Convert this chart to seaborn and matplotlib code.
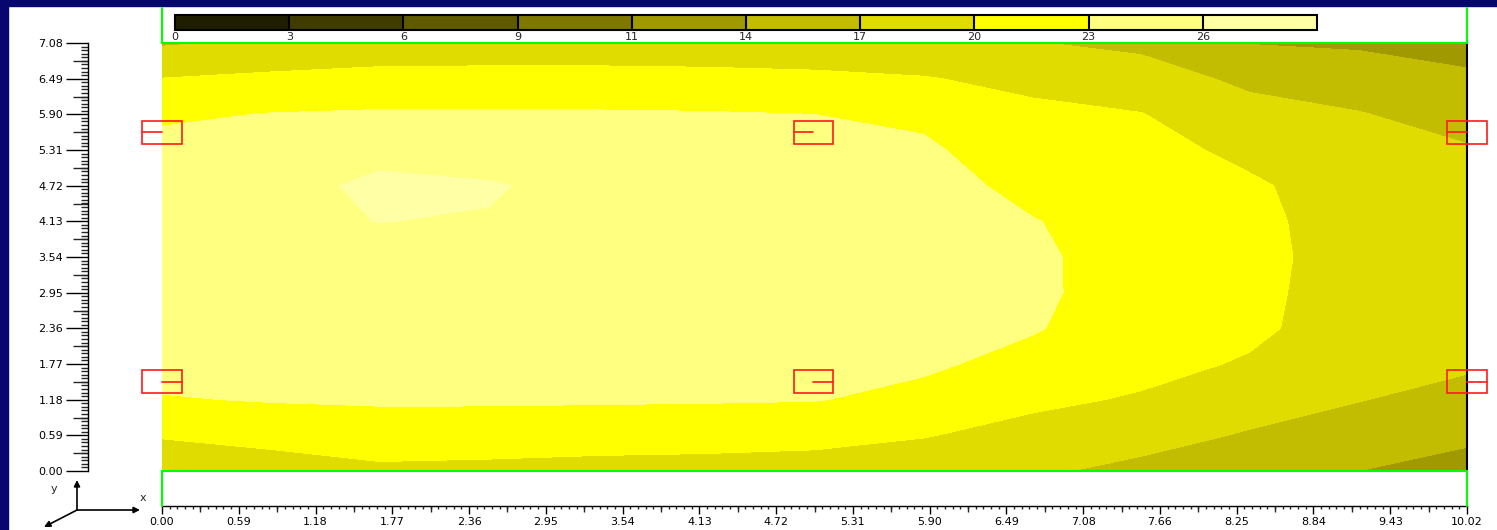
import numpy as np
import matplotlib
matplotlib.use("Agg")
import matplotlib.pyplot as plt
import seaborn as sns
from matplotlib.patches import Rectangle
from matplotlib.lines import Line2D

sns.set_style("white")
plt.rcParams["font.family"] = ["DejaVu Sans"]

# grid of the temperature field (x along the room, y across it)
x_nodes = [0.0, 0.835, 1.67, 2.505, 3.34, 4.175, 5.01, 5.845, 6.68, 7.515, 8.35, 9.185, 10.02]
y_nodes = [0.0, 0.59, 1.18, 1.77, 2.36, 2.95, 3.54, 4.13, 4.72, 5.31, 5.90, 6.49, 7.08]

# values, one row per y node (bottom to top)
temp = [
    [17.7, 18.5, 19.4, 19.2, 18.9, 18.8, 18.6, 18.2, 17.4, 16.3, 15.4, 14.0, 13.0],
    [20.25, 20.98, 21.65, 21.6, 21.43, 21.25, 20.96, 20.15, 19.0, 18.0, 16.75, 15.6, 14.5],
    [22.8, 23.17, 23.3, 23.3, 23.25, 23.2, 23.1, 22.3, 20.6, 19.7, 18.2, 17.1, 16.0],
    [24.1, 24.1, 23.9, 23.85, 23.8, 23.8, 23.7, 23.4, 22.2, 20.9, 19.7, 17.8, 17.4],
    [24.8, 24.8, 24.4, 24.4, 24.35, 24.3, 24.2, 23.9, 23.2, 21.6, 20.6, 18.5, 17.9],
    [25.2, 25.3, 24.9, 24.9, 24.85, 24.8, 24.6, 24.2, 23.4, 22.0, 20.7, 18.7, 18.2],
    [25.3, 25.6, 25.4, 25.4, 25.3, 25.1, 24.8, 24.3, 23.35, 22.1, 20.8, 18.8, 18.25],
    [25.1, 25.7, 26.02, 25.9, 25.55, 25.2, 24.8, 24.2, 23.1, 22.0, 20.7, 18.7, 18.1],
    [24.6, 25.4, 26.35, 26.15, 25.45, 25.0, 24.6, 23.9, 22.35, 21.6, 20.4, 18.6, 17.8],
    [23.9, 24.5, 25.5, 25.1, 24.7, 24.4, 24.1, 23.4, 21.5, 21.0, 19.3, 18.0, 17.25],
    [22.55, 23.1, 23.33, 23.35, 23.3, 23.2, 23.0, 22.5, 20.6, 20.1, 17.96, 17.15, 15.85],
    [20.05, 20.6, 20.86, 20.9, 20.9, 20.8, 20.6, 20.15, 19.3, 18.25, 16.4, 15.5, 14.43],
    [16.7, 17.4, 18.3, 18.4, 18.4, 18.3, 18.1, 18.0, 17.1, 16.4, 13.9, 13.6, 13.0],
]

levels = [0, 3, 6, 9, 11, 14, 17, 20, 23, 26, 29]
level_colors = ["#201e00", "#403c00", "#5f5a00", "#7f7800", "#a09a00",
                "#c2bd00", "#e0dc00", "#ffff00", "#ffff80", "#ffffa6"]

x_ticks = np.linspace(0, 10.02, 18)
x_labels = ["0.00", "0.59", "1.18", "1.77", "2.36", "2.95", "3.54", "4.13", "4.72",
            "5.31", "5.90", "6.49", "7.08", "7.66", "8.25", "8.84", "9.43", "10.02"]
y_ticks = np.linspace(0, 7.08, 13)
y_labels = ["0.00", "0.59", "1.18", "1.77", "2.36", "2.95", "3.54", "4.13", "4.72",
            "5.31", "5.90", "6.49", "7.08"]

# sensor boxes
sensor_x = [0.0, 5.0, 10.02]
sensor_y = [5.60, 1.48]

W, H = 1497, 530


def fig_rect(x0, y0, x1, y1):
    return [x0 / W, 1 - y1 / H, (x1 - x0) / W, (y1 - y0) / H]


def fig_line(x0, y0, x1, y1, color, lw):
    fig.add_artist(Line2D([x0 / W, x1 / W], [1 - y0 / H, 1 - y1 / H],
                          transform=fig.transFigure, color=color, lw=lw))


fig = plt.figure(figsize=(W / 100, H / 100), dpi=100, facecolor="white")

# navy frame of the slide
navy = "#06066e"
fig.add_artist(Rectangle((0, 0), 8 / W, 1, transform=fig.transFigure, color=navy, zorder=0))
fig.add_artist(Rectangle((0, 1 - 6 / H), 1, 6 / H, transform=fig.transFigure, color=navy, zorder=0))

ax = fig.add_axes(fig_rect(162, 43, 1467, 471))
pal = sns.color_palette(level_colors)
cs = ax.contourf(x_nodes, y_nodes, np.array(temp), levels=levels, colors=pal)
ax.set_xlim(0, 10.02)
ax.set_ylim(0, 7.08)
ax.set_facecolor("white")

ax.spines["top"].set_visible(False)
ax.spines["right"].set_color("black")
ax.spines["right"].set_linewidth(1.5)
ax.spines["left"].set_position(("outward", 53.3))
ax.spines["bottom"].set_position(("outward", 25.2))
for s in ["left", "bottom"]:
    ax.spines[s].set_color("black")
    ax.spines[s].set_linewidth(1.0)

ax.set_yticks(y_ticks)
ax.set_yticklabels(y_labels)
ax.set_yticks(np.linspace(0, 7.08, 121), minor=True)
ax.set_xticks(x_ticks)
ax.set_xticklabels(x_labels)
ax.set_xticks(np.linspace(0, 10.02, 171), minor=True)
ax.tick_params(axis="y", which="major", direction="out", length=15.8, width=1, pad=2,
               labelsize=8, left=True, colors="black")
ax.tick_params(axis="y", which="minor", direction="out", length=5, width=1, left=True)
ax.tick_params(axis="x", which="major", direction="out", length=5.8, width=1, pad=2,
               labelsize=8, bottom=True, colors="black")
ax.tick_params(axis="x", which="minor", direction="out", length=2.5, width=1, bottom=True)

# half-interval ticks
secy = ax.secondary_yaxis(-74 / 1305)
secy.set_yticks(y_ticks[:-1] + 0.295)
secy.set_yticklabels([])
secy.tick_params(direction="out", length=10.8, width=1)
secy.spines["left"].set_visible(False)
secx = ax.secondary_xaxis(-35 / 428)
secx.set_xticks(x_ticks[:-1] + 10.02 / 34)
secx.set_xticklabels([])
secx.tick_params(direction="out", length=4.3, width=1)
secx.spines["bottom"].set_visible(False)

# sensor markers
bw, bh = 0.30, 0.38
for sy_i, sy in enumerate(sensor_y):
    for sx in sensor_x:
        ax.add_patch(Rectangle((sx - bw / 2, sy - bh / 2), bw, bh, fill=False,
                               edgecolor="#ff1a1a", lw=1.2, clip_on=False, zorder=5))
        if sy_i == 0:
            ax.plot([sx - bw / 2, sx], [sy, sy], color="#ff1a1a", lw=1.2, clip_on=False, zorder=5)
        else:
            ax.plot([sx, sx + bw / 2], [sy, sy], color="#ff1a1a", lw=1.2, clip_on=False, zorder=5)

# green frame around the field
green = "#00ff00"
fig_line(162, 8, 162, 43, green, 1.5)
fig_line(1467, 8, 1467, 43, green, 1.5)
fig_line(162, 471, 162, 506, green, 1.5)
fig_line(1467, 471, 1467, 506, green, 1.5)
fig_line(162, 43, 1467, 43, green, 1.5)
fig_line(162, 471, 1467, 471, green, 1.5)

# colour bar on top
cax = fig.add_axes(fig_rect(175, 15, 1317, 30))
cb = fig.colorbar(cs, cax=cax, orientation="horizontal", spacing="uniform", drawedges=True)
cb.set_ticks(levels[:-1])
cb.set_ticklabels([str(v) for v in levels[:-1]])
cb.ax.tick_params(length=0, labelsize=8, pad=1.5)
cb.outline.set_linewidth(1.5)
cb.outline.set_edgecolor("black")
cb.dividers.set_color("black")
cb.dividers.set_linewidth(1.5)

# axis triad in the corner
arrow = dict(arrowstyle="-|>", color="black", lw=1.2, mutation_scale=9, shrinkA=0, shrinkB=0)
ax.annotate("", xy=(77, 50), xytext=(77, 20), xycoords="figure pixels",
            textcoords="figure pixels", arrowprops=arrow, annotation_clip=False)
ax.annotate("", xy=(140, 20), xytext=(77, 20), xycoords="figure pixels",
            textcoords="figure pixels", arrowprops=arrow, annotation_clip=False)
ax.annotate("", xy=(44, 3), xytext=(77, 20), xycoords="figure pixels",
            textcoords="figure pixels", arrowprops=arrow, annotation_clip=False)
fig.text(54 / W, 41 / H, "y", fontsize=8, ha="center", va="center")
fig.text(143 / W, 32 / H, "x", fontsize=8, ha="center", va="center")

fig.savefig("out.png", dpi=100, facecolor="white")
